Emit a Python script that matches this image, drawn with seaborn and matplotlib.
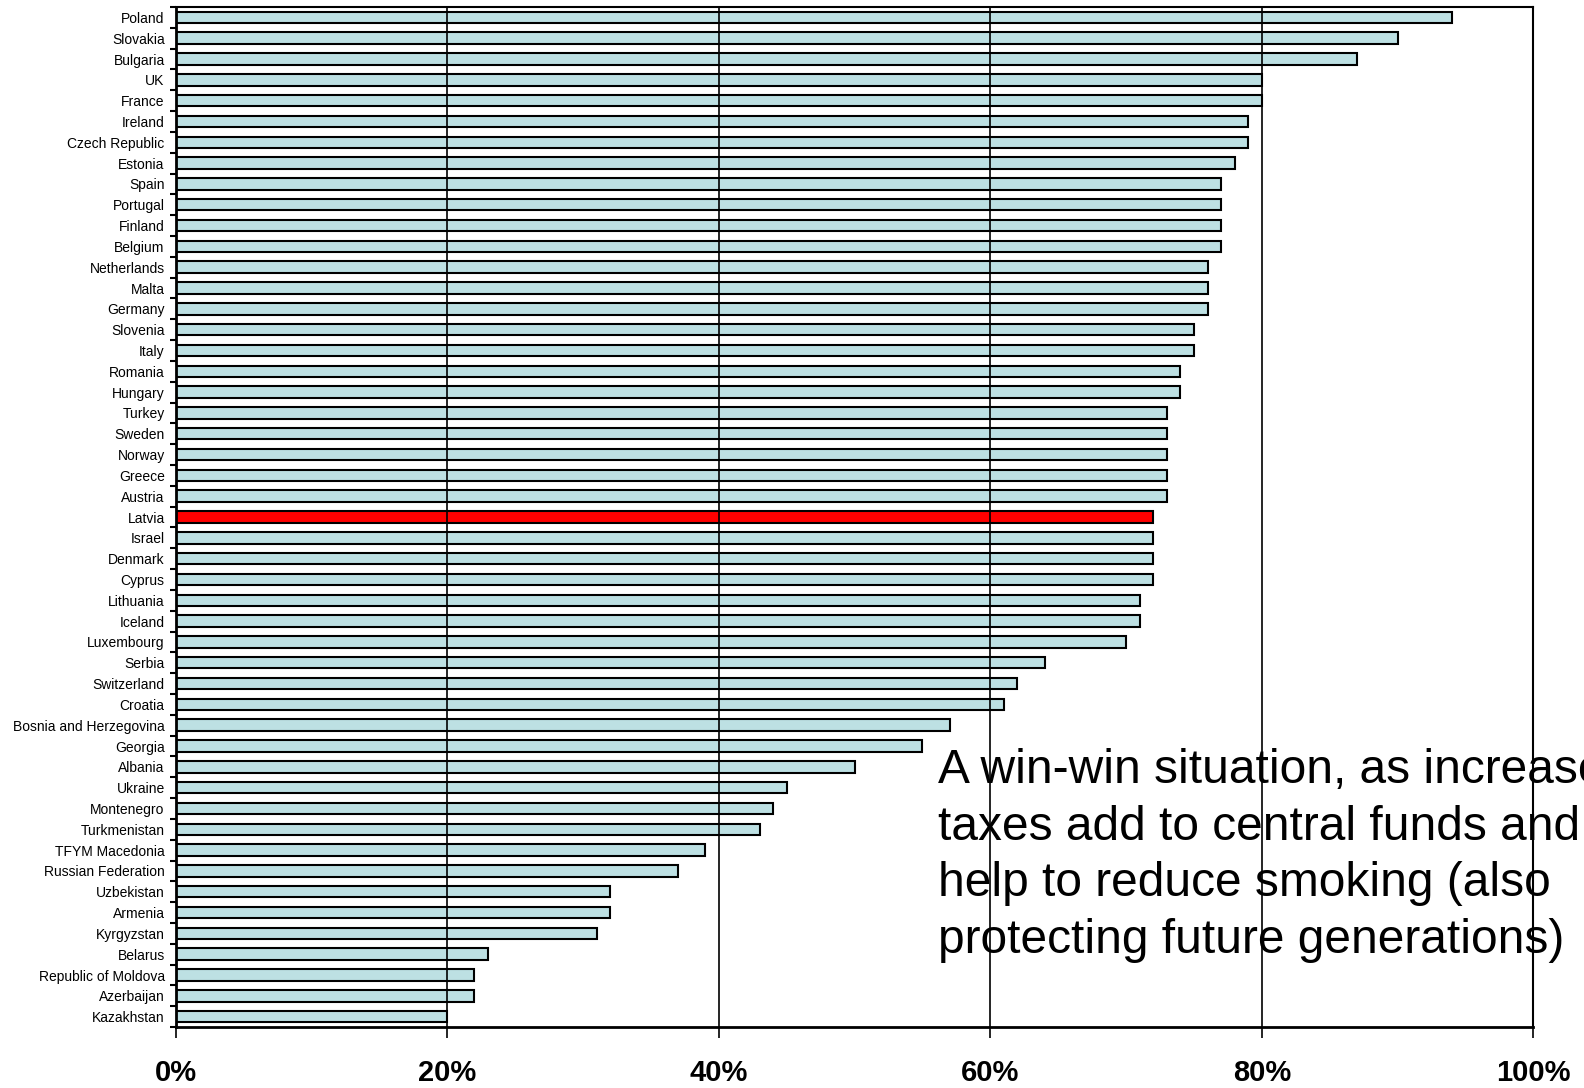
import numpy as np
import pandas as pd
import matplotlib
matplotlib.use("Agg")
import matplotlib.pyplot as plt
import seaborn as sns
from matplotlib.ticker import FixedLocator, PercentFormatter

countries = [
    "Poland", "Slovakia", "Bulgaria", "UK", "France", "Ireland", "Czech Republic",
    "Estonia", "Spain", "Portugal", "Finland", "Belgium", "Netherlands", "Malta",
    "Germany", "Slovenia", "Italy", "Romania", "Hungary", "Turkey", "Sweden",
    "Norway", "Greece", "Austria", "Latvia", "Israel", "Denmark", "Cyprus",
    "Lithuania", "Iceland", "Luxembourg", "Serbia", "Switzerland", "Croatia",
    "Bosnia and Herzegovina", "Georgia", "Albania", "Ukraine", "Montenegro",
    "Turkmenistan", "TFYM Macedonia", "Russian Federation", "Uzbekistan",
    "Armenia", "Kyrgyzstan", "Belarus", "Republic of Moldova", "Azerbaijan",
    "Kazakhstan",
]
share = [
    94, 90, 87, 80, 80, 79, 79,
    78, 77, 77, 77, 77, 76, 76,
    76, 75, 75, 74, 74, 73, 73,
    73, 73, 73, 72, 72, 72, 72,
    71, 71, 70, 64, 62, 61,
    57, 55, 50, 45, 44,
    43, 39, 37, 32,
    32, 31, 23, 22, 22,
    20,
]
highlight = "Latvia"
note = ("A win-win situation, as increased\n"
        "taxes add to central funds and\n"
        "help to reduce smoking (also\n"
        "protecting future generations)")

df = pd.DataFrame({"country": countries, "share": share})

sns.set_style("white")
plt.rcParams["font.family"] = ["Liberation Sans", "DejaVu Sans"]
plt.rcParams["text.color"] = "black"
plt.rcParams["xtick.color"] = "black"
plt.rcParams["ytick.color"] = "black"
plt.rcParams["xtick.labelcolor"] = "black"
plt.rcParams["ytick.labelcolor"] = "black"

fig = plt.figure(figsize=(15.84, 10.88), dpi=100)
ax = fig.add_axes([0.111, 0.056, 0.857, 0.9376])

pal = {c: ("#ff0000" if c == highlight else "#bde0e3") for c in countries}
sns.barplot(data=df, x="share", y="country", hue="country", palette=pal,
            orient="h", width=0.55, edgecolor="black", linewidth=1.5,
            saturation=1, legend=False, ax=ax, zorder=2)

ax.set_xlim(0, 100)
ax.set_ylim(len(countries) - 0.5, -0.5)
ax.set_xticks([0, 20, 40, 60, 80, 100])
ax.xaxis.set_major_formatter(PercentFormatter(decimals=0))
ax.xaxis.grid(True, color="black", linewidth=1.2, zorder=3)
ax.set_axisbelow(False)
ax.yaxis.grid(False)

ax.yaxis.set_minor_locator(FixedLocator(np.arange(-0.5, len(countries), 1)))
ax.tick_params(axis="y", which="major", length=0, pad=8, labelsize=10)
ax.tick_params(axis="y", which="minor", left=True, length=4, width=1.5, color="black")
ax.tick_params(axis="x", which="major", bottom=True, direction="out", length=8,
               width=1.2, color="black", pad=15, labelsize=21)
for lab in ax.get_xticklabels():
    lab.set_fontweight("bold")

for side, lw in (("left", 2), ("bottom", 2), ("top", 1.5), ("right", 1.5)):
    ax.spines[side].set_visible(True)
    ax.spines[side].set_color("black")
    ax.spines[side].set_linewidth(lw)

ax.set_xlabel("")
ax.set_ylabel("")

fig.text(938 / 1584, 1 - 953 / 1088, note, fontsize=34.5, ha="left", va="baseline",
         linespacing=1.33, color="black", zorder=5)

fig.savefig("out.png", dpi=100)
